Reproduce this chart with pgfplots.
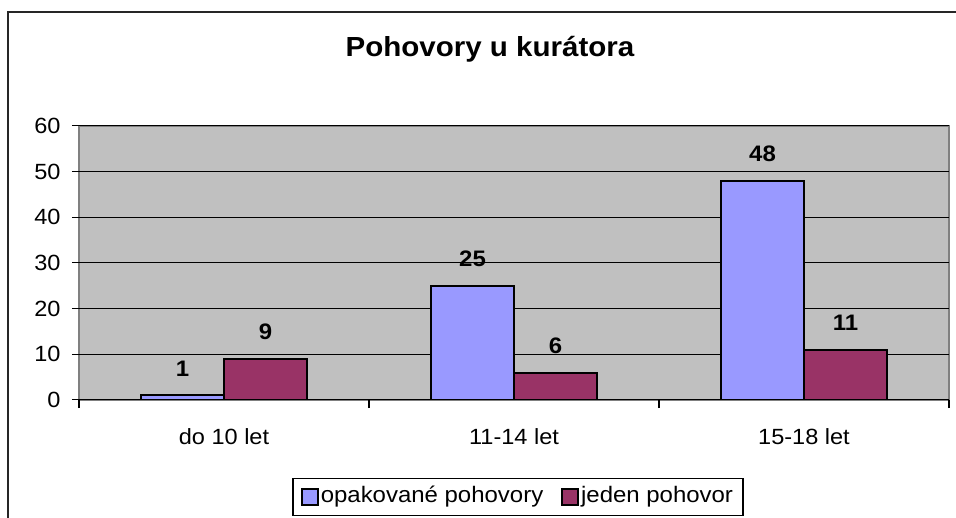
\documentclass[border=0pt]{standalone}
\usepackage{pgfplots}
\pgfplotsset{compat=1.18}
\usepackage{fontspec}
\setmainfont{Liberation Sans}[FakeStretch=1.07]
\definecolor{plotbg}{HTML}{C0C0C0}
\definecolor{framegray}{HTML}{808080}
\definecolor{barblue}{HTML}{9999FF}
\definecolor{barpurple}{HTML}{993366}
\begin{document}
\begin{tikzpicture}
\clip (0,0) rectangle (478pt,259pt);
\draw[line width=1pt, color=black!85] (4pt,-10pt) -- (4pt,253pt) -- (490pt,253pt);
\node[font=\fontsize{13.8}{16}\selectfont\bfseries, anchor=base] at (245pt,230.6pt) {Pohovory u kurátora};
\begin{axis}[
  at={(39.5pt,59pt)}, anchor=south west, scale only axis,
  width=435pt, height=137pt,
  xmin=-0.5, xmax=2.5, ymin=0, ymax=60,
  ytick={0,10,...,60},
  xtick={0,1,2}, xticklabels={do 10 let, 11-14 let, 15-18 let},
  minor xtick={-0.5,0.5,1.5,2.5},
  tick pos=left, tick align=outside,
  major tick length=3.5pt, minor tick length=4pt,
  every major y tick/.append style={black, line width=0.5pt},
  every major x tick/.append style={draw=none},
  every minor x tick/.append style={black, line width=0.6pt},
  ymajorgrids=true, xmajorgrids=false,
  major grid style={black, line width=0.5pt},
  axis background/.style={fill=plotbg, draw=framegray, line width=0.8pt},
  axis line style={draw=none},
  /pgf/number format/assume math mode=true,
  tick label style={font=\fontsize{11}{13}\selectfont},
  yticklabel style={xshift=-2.2pt},
  xticklabel style={yshift=-7pt},
  legend style={at={(0.5046,-0.2847)}, anchor=north, legend columns=2,
    draw=black, line width=0.6pt, fill=white, inner xsep=4pt, inner ysep=3pt,
    font=\fontsize{11.2}{13}\selectfont, nodes={inner sep=1pt, text height=8pt, text depth=2.6pt},
    /tikz/every even column/.append style={column sep=8pt}},
  legend image code/.code={\draw[#1, line width=0.9pt, draw=black] (0pt,-4pt) rectangle (8pt,4pt);},
  nodes near coords,
  every node near coord/.append style={anchor=center, yshift=13.5pt, font=\fontsize{11.2}{13}\selectfont\bfseries, black},
]
\addplot[ybar, bar width=0.286, bar shift=0pt, fill=barblue, draw=black, line width=1pt]
  coordinates {(-0.143,1) (0.857,25) (1.857,48)};
\addlegendentry{opakované pohovory}
\addplot[ybar, bar width=0.286, bar shift=0pt, fill=barpurple, draw=black, line width=1pt]
  coordinates {(0.143,9) (1.143,6) (2.143,11)};
\addlegendentry{jeden pohovor}
\draw[black, line width=0.8pt] (rel axis cs:0,0) -- (rel axis cs:1,0);
\end{axis}
\end{tikzpicture}
\end{document}
